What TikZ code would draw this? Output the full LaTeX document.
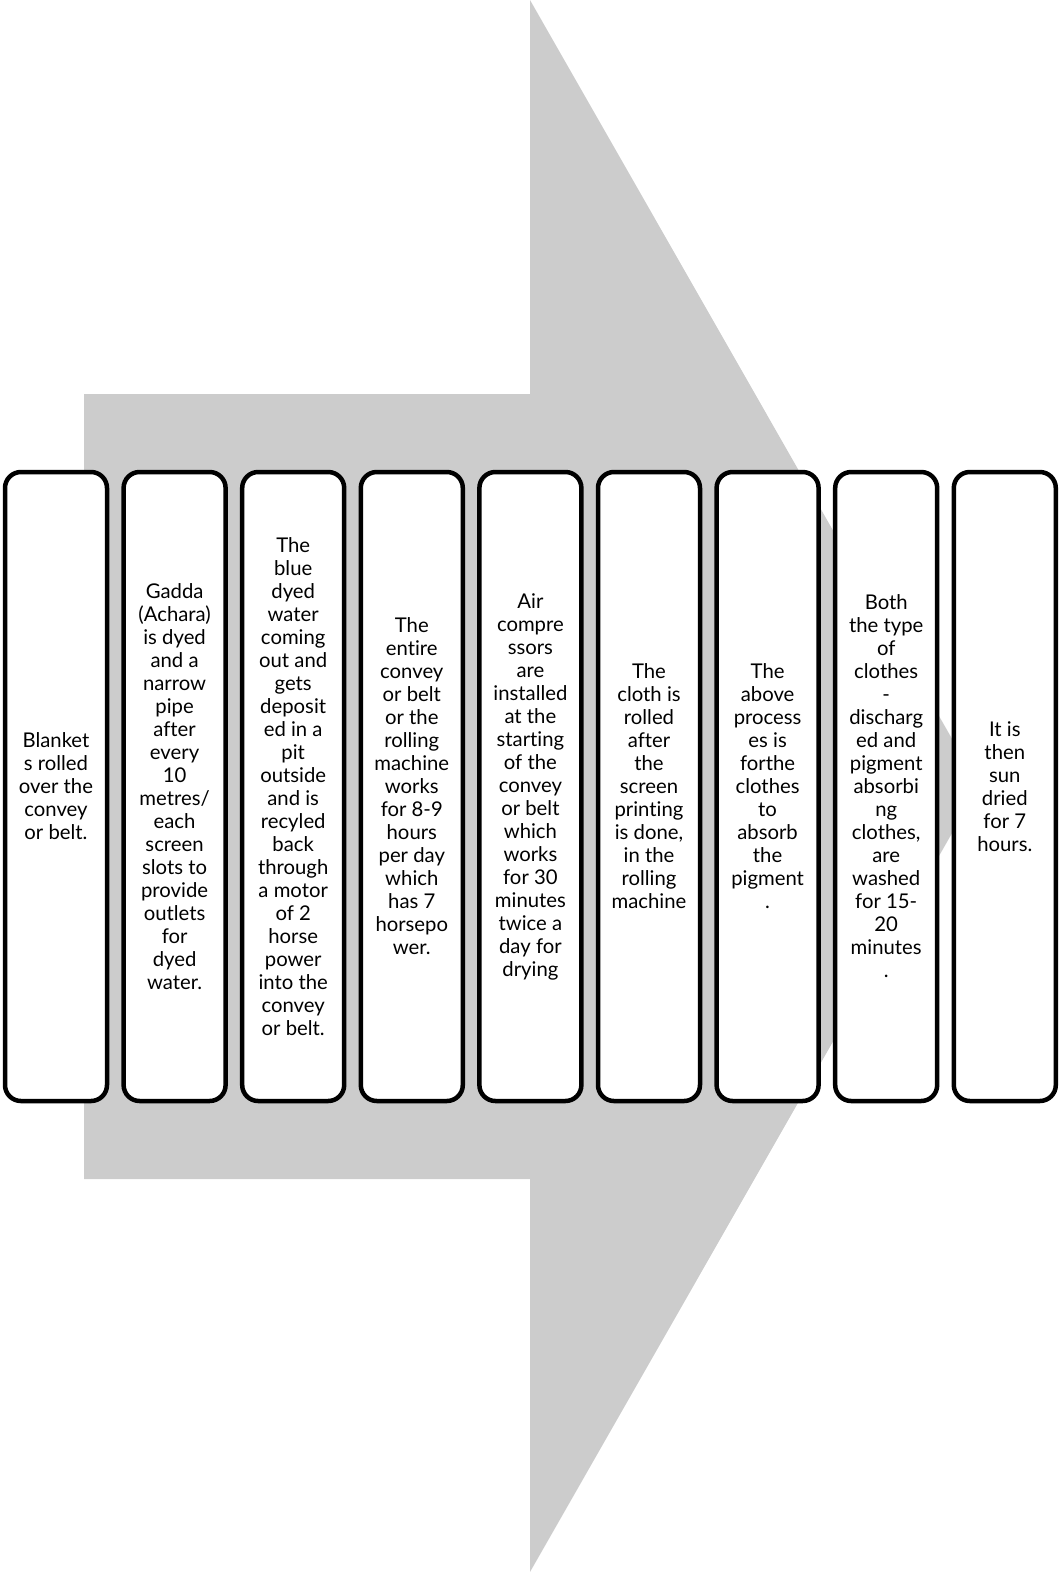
\documentclass[tikz,border=0pt]{standalone}
\usepackage{fontspec}
\setmainfont{Lato}[Ligatures={NoCommon}]
\usetikzlibrary{positioning}

\begin{document}
\begin{tikzpicture}[
    x=1pt, y=-1pt,
    stepbox/.style={draw, line width=4.5pt, rounded corners=16pt, fill=white, minimum width=102pt, minimum height=629pt, inner sep=0pt, align=center, font=\fontsize{20.3pt}{23pt}\selectfont},
    bigarrow/.style={fill=black!20, draw=none},
]
\useasboundingbox (0,0) rectangle (1059,1572);

% Background arrow
\path[bigarrow] (84,394) -- (530,394) -- (530,0) -- (979,786) -- (530,1572) -- (530,1179) -- (84,1179) -- cycle;

% Steps
\node[stepbox] (s1) at (56, 786.5) {Blanket\\s rolled\\over the\\convey\\or belt.};
\node[stepbox] (s2) at (174.6, 786.5) {Gadda\\(Achara)\\is dyed\\and a\\narrow\\pipe\\after\\every\\10\\metres/\\each\\screen\\slots to\\provide\\outlets\\for\\dyed\\water.};
\node[stepbox] (s3) at (293.2, 786.5) {The\\blue\\dyed\\water\\coming\\out and\\gets\\deposit\\ed in a\\pit\\outside\\and is\\recyled\\back\\through\\a motor\\of 2\\horse\\power\\into the\\convey\\or belt.};
\node[stepbox] (s4) at (411.8, 786.5) {The\\entire\\convey\\or belt\\or the\\rolling\\machine\\works\\for 8-9\\hours\\per day\\which\\has 7\\horsepo\\wer.};
\node[stepbox] (s5) at (530.4, 786.5) {Air\\compre\\ssors\\are\\installed\\at the\\starting\\of the\\convey\\or belt\\which\\works\\for 30\\minutes\\twice a\\day for\\drying};
\node[stepbox] (s6) at (649, 786.5) {The\\cloth is\\rolled\\after\\the\\screen\\printing\\is done,\\in the\\rolling\\machine};
\node[stepbox] (s7) at (767.6, 786.5) {The\\above\\process\\es is\\forthe\\clothes\\to\\absorb\\the\\pigment\\.};
\node[stepbox] (s8) at (886.2, 786.5) {Both\\the type\\of\\clothes\\-\\discharg\\ed and\\pigment\\absorbi\\ng\\clothes,\\are\\washed\\for 15-\\20\\minutes\\.};
\node[stepbox] (s9) at (1004.8, 786.5) {It is\\then\\sun\\dried\\for 7\\hours.};

\end{tikzpicture}
\end{document}
